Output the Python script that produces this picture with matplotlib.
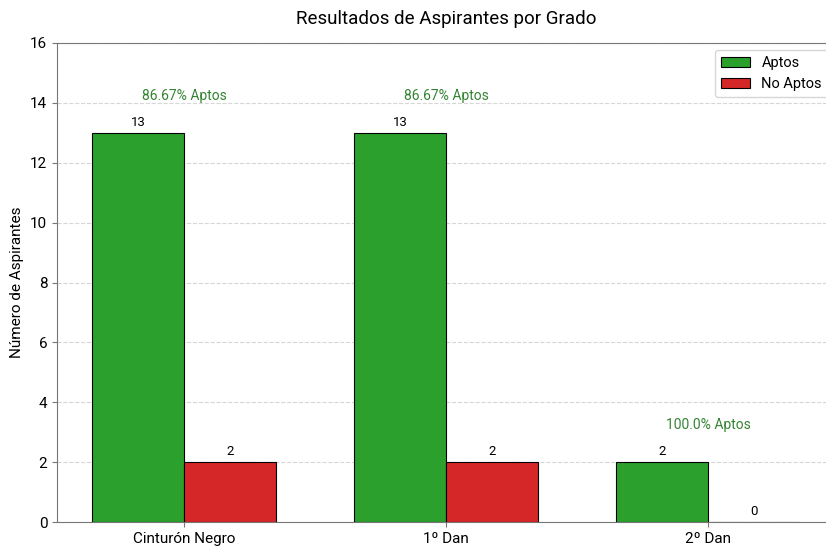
import numpy as np
import matplotlib.pyplot as plt

plt.rcParams['font.family'] = ['Roboto', 'DejaVu Sans']

grados = ['Cinturón Negro', '1º Dan', '2º Dan']
aptos = [13, 13, 2]
no_aptos = [2, 2, 0]

x = np.arange(len(grados))
width = 0.35

fig = plt.figure(figsize=(8.26, 5.48), dpi=100)
ax = fig.add_axes([57 / 826, 26 / 548, 778 / 826, 479 / 548])

b1 = ax.bar(x - width / 2, aptos, width, label='Aptos', color='#2ca02c', edgecolor='black', linewidth=0.8)
b2 = ax.bar(x + width / 2, no_aptos, width, label='No Aptos', color='#d62728', edgecolor='black', linewidth=0.8)

# valores encima de cada barra
for bars in (b1, b2):
    for b in bars:
        h = b.get_height()
        ax.annotate(f'{int(h)}', (b.get_x() + b.get_width() / 2, h), xytext=(0, 3),
                    textcoords='offset points', ha='center', va='bottom', fontsize=9.5)

# porcentaje de aptos
for i in range(len(grados)):
    total = aptos[i] + no_aptos[i]
    pct = round(aptos[i] / total * 100, 2)
    ax.text(x[i], max(aptos[i], no_aptos[i]) + 1, f'{pct}% Aptos', ha='center', va='bottom',
            fontsize=10, color='darkgreen', alpha=0.8)

ax.set_title('Resultados de Aspirantes por Grado', fontsize=13.5, pad=14)
ax.set_ylabel('Número de Aspirantes', fontsize=11)
ax.set_xticks(x)
ax.set_xticklabels(grados, fontsize=11)
ax.tick_params(axis='y', labelsize=11)
ax.set_ylim(0, 16)
ax.set_xlim(-0.485, 2.485)
ax.yaxis.grid(True, linestyle='--', color='#cccccc', alpha=0.8)
ax.set_axisbelow(True)
for s in ax.spines.values():
    s.set_color('#777777')
ax.tick_params(colors='#777777', labelcolor='black')
ax.legend(loc='upper right', fontsize=10.5)

fig.savefig('out.png', dpi=100)
